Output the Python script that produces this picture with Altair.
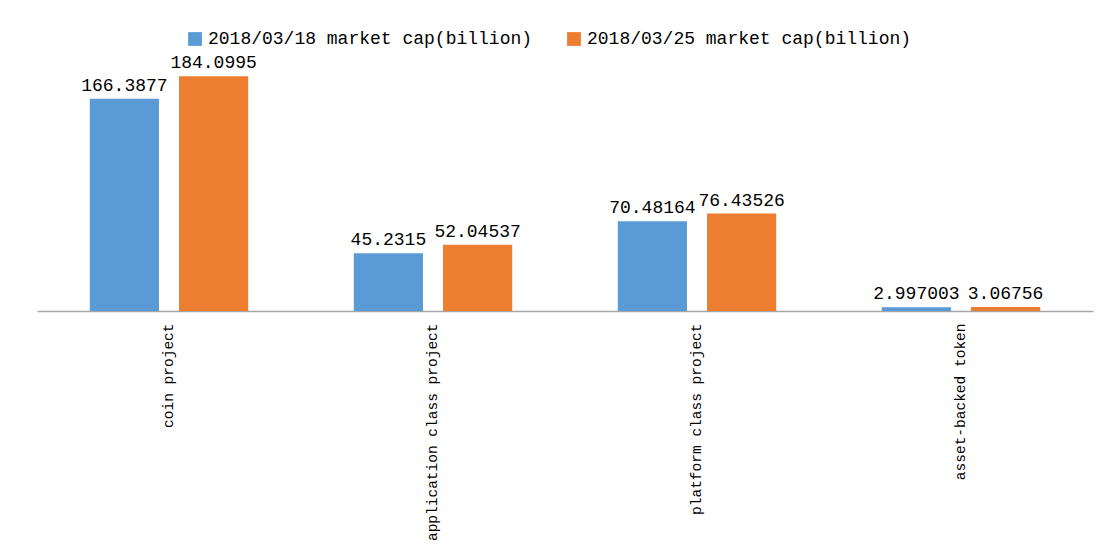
import altair as alt
import pandas as pd

categories = ["coin project", "application class project", "platform class project", "asset-backed token"]
series = ["2018/03/18 market cap(billion)", "2018/03/25 market cap(billion)"]
mar18 = [166.3877, 45.2315, 70.48164, 2.997003]
mar25 = [184.0995, 52.04537, 76.43526, 3.06756]
colors = ["#5B9BD5", "#ED7D31"]

rows = []
for c, a, b in zip(categories, mar18, mar25):
    rows.append({"category": c, "series": series[0], "value": a, "label": str(a)})
    rows.append({"category": c, "series": series[1], "value": b, "label": str(b)})
df = pd.DataFrame(rows)

FONT = "Liberation Mono"

base = alt.Chart(df).encode(
    x=alt.X(
        "category:N",
        sort=categories,
        scale=alt.Scale(paddingInner=0.4, paddingOuter=0.2),
        axis=alt.Axis(
            title=None, labelAngle=-90, ticks=False, labelPadding=12, labelLimit=0,
            labelFont=FONT, labelFontSize=14.5, labelColor="#000000",
            domainColor="#A6A6A6", domainWidth=1.5,
        ),
    ),
    xOffset=alt.XOffset("series:N", sort=series, scale=alt.Scale(paddingInner=0.2247, paddingOuter=0)),
    y=alt.Y("value:Q", scale=alt.Scale(domain=[0, 200]), axis=None),
)

bars = base.mark_bar().encode(
    color=alt.Color(
        "series:N",
        scale=alt.Scale(domain=series, range=colors),
        legend=alt.Legend(
            title=None, orient="none", direction="horizontal",
            legendX=149, legendY=-26, symbolType="square", symbolSize=190,
            symbolStrokeWidth=0, labelFont=FONT, labelFontSize=18, labelLimit=0,
            labelColor="#000000", columnPadding=32, labelOffset=4,
        ),
    )
)

labels = base.mark_text(baseline="bottom", dy=-4, font=FONT, fontSize=18, color="#000000").encode(
    text="label:N"
)

chart = (
    alt.layer(bars, labels)
    .properties(
        width=1056, height=255, autosize="none", background="#FFFFFF",
        padding={"left": 29, "top": 48, "right": 7, "bottom": 230},
    )
    .configure_view(stroke=None)
)

chart.save("out.html", embed_options={"renderer": "svg", "actions": False})
